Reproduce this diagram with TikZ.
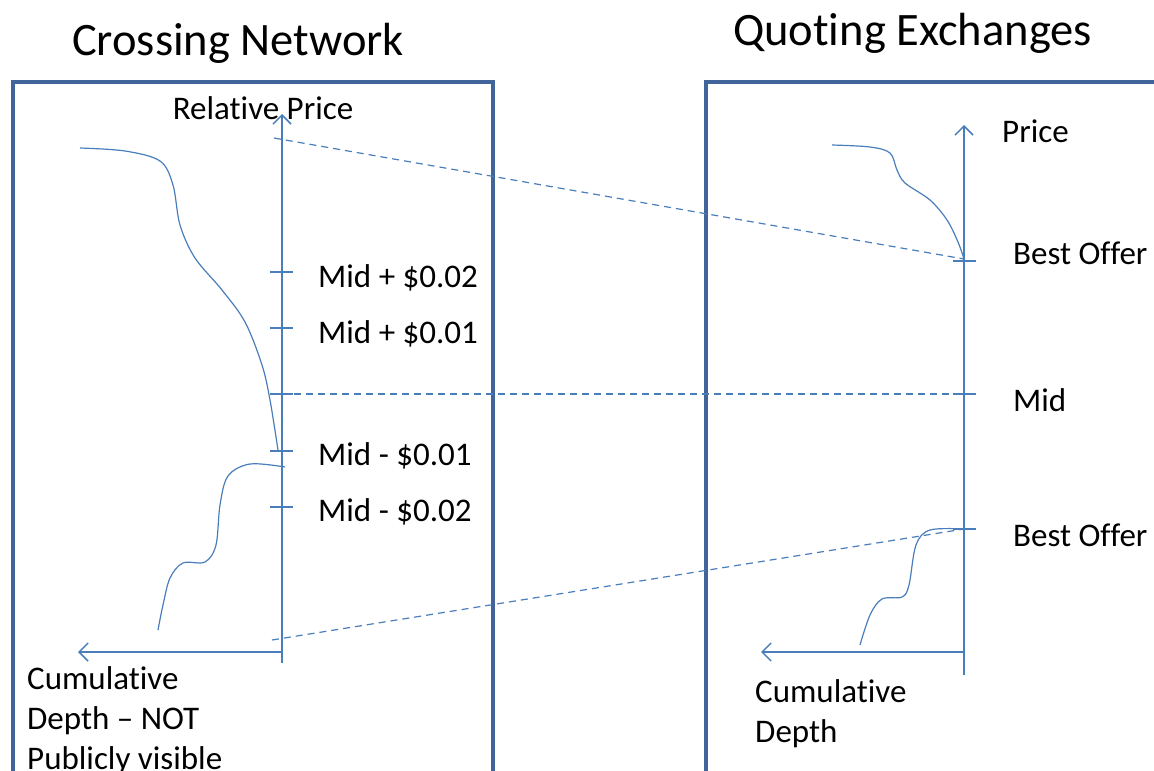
\documentclass[tikz,border=0pt]{standalone}
\usepackage{fontspec}
\setmainfont{Carlito}[Ligatures=NoCommon]
\usetikzlibrary{arrows.meta}
\definecolor{boxblue}{HTML}{41659A}
\definecolor{lineblue}{HTML}{4A7EBB}
\tikzset{
  frame/.style={draw=boxblue, line width=3.5pt},
  axis/.style={draw=lineblue, line width=1.8pt, -{Straight Barb[length=9pt,width=18pt,line width=1.5pt]}},
  tick/.style={draw=lineblue, line width=1.8pt},
  curve/.style={draw=lineblue, line width=1.2pt, smooth, tension=0.55},
  guide/.style={draw=lineblue, line width=1.2pt, dash pattern=on 7pt off 5pt},
  title/.style={font=\fontsize{46.5}{56}\selectfont, text=black, anchor=base west, inner sep=0pt},
  lbl/.style={font=\fontsize{33}{40}\selectfont, text=black, anchor=base west, inner sep=0pt, align=left},
}
\begin{document}
\begin{tikzpicture}[x=1pt, y=-1pt]
\useasboundingbox (0,0) rectangle (1154,771);
% frames
\draw[frame] (13,775) -- (13,82) -- (493,82) -- (493,775);
\draw[frame] (706,775) -- (706,82) -- (1170,82);
% titles
\node[title] (t1) at (72,55) {Crossing Network};
\node[title] (t2) at (733,45) {Quoting Exchanges};
% left axes
\coordinate (lo) at (282,652);
\coordinate (lbot) at (282,663);
\coordinate (ltop) at (282,114);
\coordinate (lx) at (78,652);
\draw[axis] (lbot) -- (ltop);
\draw[axis] (lo) -- (lx);
% right axes
\coordinate (ro) at (964,652);
\coordinate (rbot) at (964,675);
\coordinate (rtop) at (964,125);
\coordinate (rx) at (761,652);
\draw[axis] (rbot) -- (rtop);
\draw[axis] (ro) -- (rx);
% left ticks
\foreach \n/\yy in {p2/272, p1/328, mid/394, m1/451, m2/507}{
  \draw[tick] (270,\yy) -- (293,\yy);
  \coordinate (l\n) at (282,\yy);
}
% right ticks
\foreach \n/\yy in {bo/261, mid/394, bb/529}{
  \draw[tick] (953,\yy) -- (976,\yy);
  \coordinate (r\n) at (964,\yy);
}
% labels left
\node[lbl, anchor=base] (rp) at (263,119) {Relative Price};
\node[lbl] (a) at (318,287) {Mid + \$0.02};
\node[lbl] (b) at (318,343) {Mid + \$0.01};
\node[lbl] (c) at (318,465) {Mid - \$0.01};
\node[lbl] (d) at (318,521) {Mid - \$0.02};
\node[lbl] (cd1) at (27,769) {Cumulative\\Depth -- NOT\\Publicly visible};
% labels right
\node[lbl] (pr) at (1002,142) {Price};
\node[lbl] (bo1) at (1013,264) {Best Offer};
\node[lbl] (md) at (1013,411) {Mid};
\node[lbl] (bo2) at (1013,546) {Best Offer};
\node[lbl] (cd2) at (755,742) {Cumulative\\Depth};
% curves
\draw[curve] plot coordinates {(80,148) (125,151) (160,161) (173,185) (180,225) (195,258) (222,290) (245,322) (262,365) (270,400) (278,450)};
\draw[curve] plot coordinates {(285,467) (250,464) (228,476) (220,505) (216,545) (205,562) (183,563) (170,578) (163,605) (158,630)};
\draw[curve] plot coordinates {(832,145) (870,147) (890,153) (897,170) (905,183) (930,200) (947,220) (958,242) (964,259)};
\draw[curve] plot coordinates {(964,529) (930,530) (916,545) (909,585) (902,597) (882,599) (870,615) (860,645)};
% dashed guides
\coordinate (g1) at (274,138);
\coordinate (g3) at (272,640);
\draw[guide] (g1) -- (964,259);
\draw[guide] (lmid) -- (rmid);
\draw[guide] (g3) -- (rbb);
\end{tikzpicture}
\end{document}
